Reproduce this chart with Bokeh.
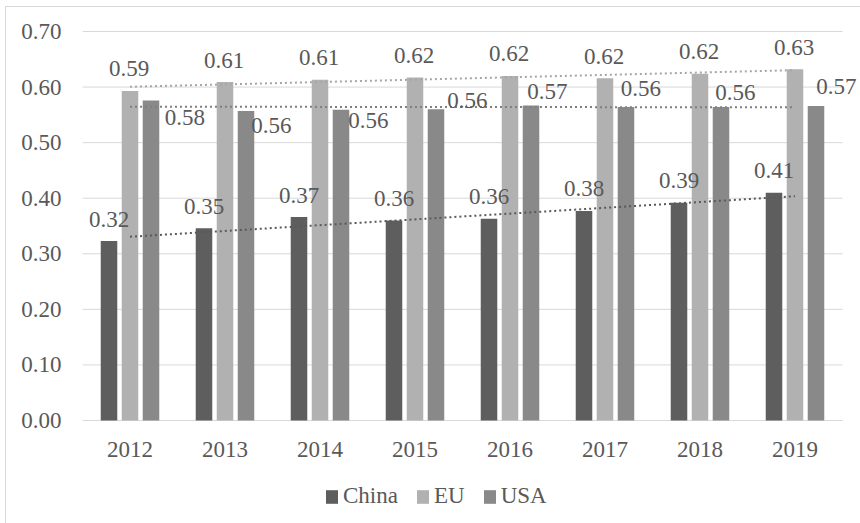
import numpy as np
from bokeh.plotting import figure
from bokeh.layouts import column
from bokeh.models import (Range1d, FixedTicker, ColumnDataSource, Legend, LegendItem,
                          CustomJSTickFormatter, PrintfTickFormatter)
from bokeh.transform import dodge
from bokeh.core.properties import value
from bokeh.embed import file_html
from bokeh.resources import INLINE

# ---- data ----
years = ["2012", "2013", "2014", "2015", "2016", "2017", "2018", "2019"]
china = [0.323, 0.346, 0.366, 0.360, 0.363, 0.377, 0.392, 0.410]
eu = [0.593, 0.609, 0.613, 0.617, 0.620, 0.616, 0.624, 0.632]
usa = [0.576, 0.557, 0.559, 0.560, 0.567, 0.564, 0.564, 0.566]
series_names = ["China", "EU", "USA"]
y_ticks = [0.0, 0.1, 0.2, 0.3, 0.4, 0.5, 0.6, 0.7]

# ---- style ----
FONT = "Liberation Serif"
FONT_SIZE = "23px"
TEXT = "#595959"
GRID = "#d9d9d9"
BAR_COLORS = ["#5e5e5e", "#b1b1b1", "#898989"]
TREND_COLORS = ["#595959", "#a6a6a6", "#7f7f7f"]
OFFSETS = [-0.221, 0.0, 0.221]
BAR_W = 0.174

PX_X = 95.0           # pixels per category
PX_Y = 389 / 0.7      # pixels per unit on the value axis

# label placement in screen px (dx, dy) of the text centre relative to the top centre of each bar
LABEL_SHIFT = [
    [(0, -22)] * 8,
    [(-1, -22)] * 8,
    [(34, 17), (25.5, 14.5), (27.5, 10.5), (31.5, -8.5),
     (16.5, -13.5), (15, -18.5), (14.5, -15), (20.5, -19.5)],
]

n = len(years)
xc = np.arange(n) + 0.5
W = 854

# ---------------- main chart ----------------
p = figure(width=W, height=463,
           x_range=Range1d(0, 778 / PX_X),
           y_range=Range1d(-1 / PX_Y, 0.7 + 10 / PX_Y),
           output_backend="svg", toolbar_location=None,
           min_border_left=76, min_border_right=0,
           min_border_top=14, min_border_bottom=49,
           background_fill_color="white", border_fill_color="white")
p.outline_line_color = None
p.xgrid.visible = False
p.ygrid.visible = False

# horizontal gridlines spanning the category area
p.segment(x0=[0] * len(y_ticks), x1=[n] * len(y_ticks), y0=y_ticks, y1=y_ticks,
          line_color=GRID, line_width=1)

src = ColumnDataSource(dict(x=xc, China=china, EU=eu, USA=usa))

for k, name in enumerate(series_names):
    p.vbar(x=dodge("x", OFFSETS[k]), top=name, width=BAR_W, bottom=0,
           source=src, fill_color=BAR_COLORS[k], line_color=None)

# linear trend lines from category centre to category centre
for k, vals in enumerate([china, eu, usa]):
    idx = np.arange(1, n + 1)
    slope, icpt = np.polyfit(idx, vals, 1)
    p.line(x=[xc[0], xc[-1]], y=[slope * 1 + icpt, slope * n + icpt],
           line_color=TREND_COLORS[k], line_width=2, line_dash="2 3")

# value labels
for k, vals in enumerate([china, eu, usa]):
    lab = ColumnDataSource(dict(
        x=xc + OFFSETS[k], y=vals, t=[f"{v:.2f}" for v in vals],
        dx=[s[0] for s in LABEL_SHIFT[k]],
        dy=[s[1] for s in LABEL_SHIFT[k]],
    ))
    p.text(x="x", y="y", text="t", x_offset="dx", y_offset="dy", source=lab,
           text_font=value(FONT), text_font_size=FONT_SIZE, text_color=TEXT,
           text_align="center", text_baseline="middle")

# axes
for ax in (p.xaxis[0], p.yaxis[0]):
    ax.axis_line_color = None
    ax.major_tick_line_color = None
    ax.minor_tick_line_color = None
    ax.major_label_text_font = FONT
    ax.major_label_text_font_size = FONT_SIZE
    ax.major_label_text_color = TEXT

p.xaxis.ticker = FixedTicker(ticks=list(xc))
p.xaxis.formatter = CustomJSTickFormatter(args=dict(yrs=years),
                                          code="return yrs[Math.floor(tick)];")
p.xaxis.major_label_standoff = 14
p.yaxis.ticker = FixedTicker(ticks=y_ticks)
p.yaxis.formatter = PrintfTickFormatter(format="%.2f")
p.yaxis.major_label_standoff = 15

# ---------------- legend strip ----------------
pl = figure(width=W, height=53, x_range=Range1d(0, W), y_range=Range1d(0, 53),
            output_backend="svg", toolbar_location=None,
            x_axis_location=None, y_axis_location=None,
            min_border=0, background_fill_color="white", border_fill_color="white")
pl.outline_line_color = None
pl.xgrid.visible = False
pl.ygrid.visible = False

# swatch renderers: one zero-height bar each, parked outside the visible range
swatches = [pl.vbar(x=[-100], top=[0], width=1, fill_color=c, line_color=None)
            for c in BAR_COLORS]
legend = Legend(items=[LegendItem(label=nm, renderers=[r])
                       for nm, r in zip(series_names, swatches)],
                orientation="horizontal", location=(242, 14),
                glyph_width=15, glyph_height=17, label_standoff=4, spacing=17,
                padding=0, margin=0, border_line_color=None,
                background_fill_alpha=0,
                label_text_font=FONT, label_text_font_size=FONT_SIZE,
                label_text_color=TEXT, label_height=17)
pl.add_layout(legend, "center")

layout = column(p, pl, spacing=0)
layout.margin = (6, 0, 0, 5)
layout.styles = {"border-left": "1px solid #d9d9d9", "border-top": "1px solid #d9d9d9"}

open("out.html", "w").write(file_html(layout, INLINE))
